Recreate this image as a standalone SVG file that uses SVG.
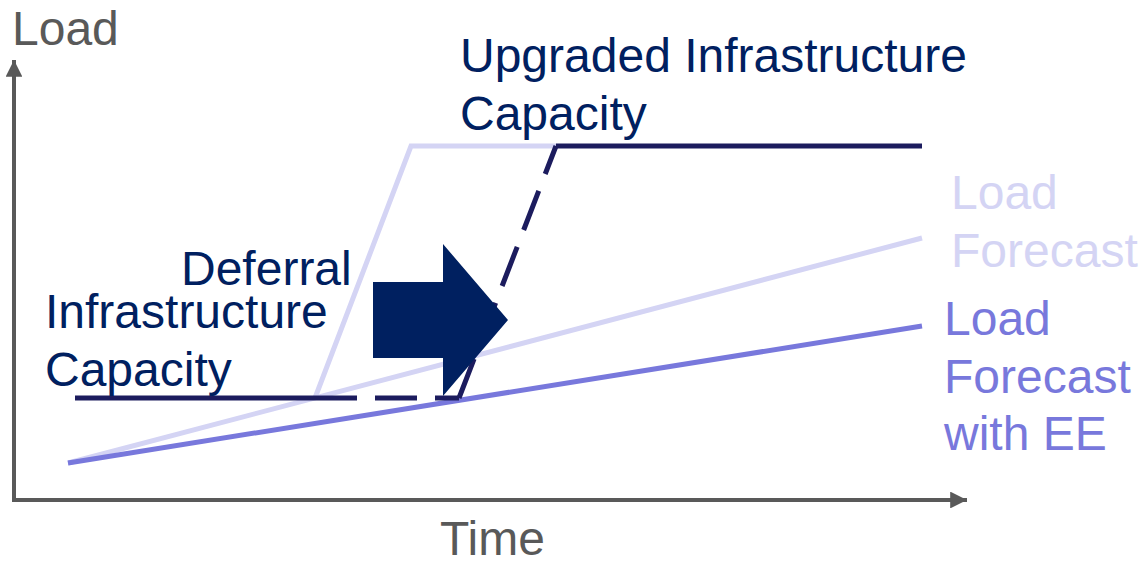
<svg xmlns="http://www.w3.org/2000/svg" width="1142" height="563" viewBox="0 0 1142 563">
<style>
text{font-family:"Liberation Sans",Arial,sans-serif;font-size:48px}
.ax{fill:#595959}
.nv{fill:#002060}
.lt{fill:#d4d4f4}
.pp{fill:#7878dc}
.dash{stroke-dasharray:42 18}
</style>
<defs>
<marker id="ah" viewBox="0 0 10 10" refX="10" refY="5" markerWidth="6.5" markerHeight="4.2" orient="auto" markerUnits="strokeWidth"><path d="M0,0 L10,5 L0,10 Z" fill="#595959"/></marker>
</defs>
<g id="axes">
<line x1="14" y1="502" x2="14" y2="60" stroke="#595959" stroke-width="4" marker-end="url(#ah)"/>
<line x1="12" y1="500" x2="967" y2="500" stroke="#595959" stroke-width="4" marker-end="url(#ah)"/>
<text class="ax" x="12" y="45">Load</text>
<text class="ax" x="440" y="555">Time</text>
</g>
<g id="connectors" fill="none" stroke-width="5">
<polyline id="upgrade-early" points="315,398 411,146 556,146" stroke="#d4d4f4"/>
<line id="forecast" x1="68" y1="463" x2="922" y2="238" stroke="#d4d4f4"/>
<line id="forecast-ee" x1="68" y1="463" x2="922" y2="326" stroke="#7878dc"/>
<line id="existing-capacity" x1="75" y1="398" x2="315" y2="398" stroke="#1c1c5e"/>
<line id="deferred-capacity" class="dash" x1="315" y1="398" x2="459" y2="398" stroke="#1c1c5e"/>
<line id="deferred-upgrade" class="dash" x1="459" y1="398" x2="556" y2="146" stroke="#1c1c5e"/>
<line id="upgraded-capacity" x1="556" y1="146" x2="922" y2="146" stroke="#1c1c5e"/>
</g>
<g id="deferral-arrow">
<path d="M373,282 H443 V244 L508,320 L443,396 V358 H373 Z" fill="#002060"/>
</g>
<g id="label-upgraded">
<text class="nv" x="460" y="72">Upgraded Infrastructure</text>
<text class="nv" x="460" y="130">Capacity</text>
</g>
<g id="label-deferral">
<text class="nv" x="181" y="285">Deferral</text>
</g>
<g id="label-infra">
<text class="nv" x="45" y="328">Infrastructure</text>
<text class="nv" x="45" y="386">Capacity</text>
</g>
<g id="label-forecast">
<text class="lt" x="951" y="209">Load</text>
<text class="lt" x="951" y="267">Forecast</text>
</g>
<g id="label-forecast-ee">
<text class="pp" x="944" y="335">Load</text>
<text class="pp" x="944" y="393">Forecast</text>
<text class="pp" x="944" y="450">with EE</text>
</g>
</svg>
